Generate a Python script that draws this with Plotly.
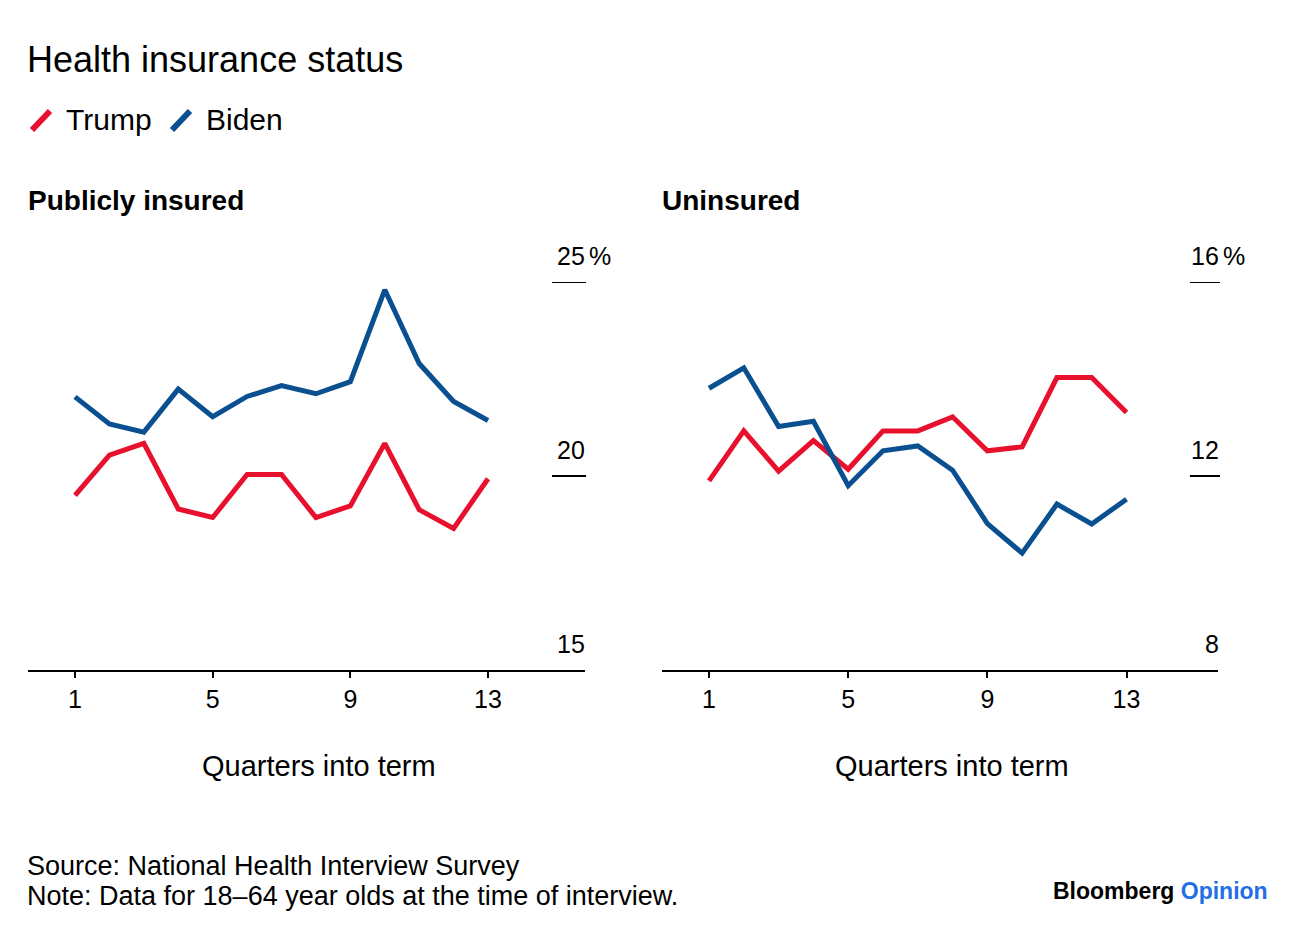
import plotly.graph_objects as go

# ---------------- data ----------------
quarters = list(range(1, 14))
series_names = ["Trump", "Biden"]
series_colors = ["#E8112D", "#0A5091"]

public_trump = [19.50, 20.54, 20.84, 19.15, 18.93, 20.04, 20.04, 18.93, 19.23, 20.84, 19.13, 18.65, 19.93]
public_biden = [22.04, 21.34, 21.13, 22.24, 21.53, 22.05, 22.33, 22.12, 22.43, 24.80, 22.90, 21.92, 21.43]

uninsured_trump = [11.90, 12.93, 12.10, 12.73, 12.14, 12.93, 12.93, 13.22, 12.52, 12.60, 14.03, 14.03, 13.31]
uninsured_biden = [13.81, 14.23, 13.02, 13.13, 11.80, 12.52, 12.62, 12.12, 11.02, 10.41, 11.42, 11.01, 11.52]

x_ticks = [1, 5, 9, 13]
public_y_ticks = [15, 20, 25]
uninsured_y_ticks = [8, 12, 16]

title_text = "Health insurance status"
panel_titles = ["Publicly insured", "Uninsured"]
x_title = "Quarters into term"
source_text = "Source: National Health Interview Survey"
note_text = "Note: Data for 18\u201364 year olds at the time of interview."

# ---------------- layout helpers ----------------
W, H = 1296, 936
FONT = "Liberation Sans"


def px(x):
    return x / W


def py(y):
    return 1 - y / H


fig = go.Figure()

panels = [
    dict(xa="x", ya="y", xd=[px(28), px(585)], xr=[-0.366, 15.818],
         yr=[public_y_ticks[0], public_y_ticks[-1]], ticks=public_y_ticks,
         data=[public_trump, public_biden], tick_x=(552, 586), title_x=26, xt_c=319),
    dict(xa="x2", ya="y2", xd=[px(662), px(1218)], xr=[-0.352, 15.63],
         yr=[uninsured_y_ticks[0], uninsured_y_ticks[-1]], ticks=uninsured_y_ticks,
         data=[uninsured_trump, uninsured_biden], tick_x=(1190, 1220), title_x=660, xt_c=952),
]

ydom = [py(670), py(282)]

annotations = []
shapes = []

for i, p in enumerate(panels):
    for name, color, vals in zip(series_names, series_colors, p["data"]):
        fig.add_trace(go.Scatter(
            x=quarters, y=vals, mode="lines", name=name,
            line=dict(color=color, width=5), xaxis=p["xa"], yaxis=p["ya"],
            showlegend=False, hoverinfo="skip"))
    suffix = "" if i == 0 else "2"
    fig.update_layout(**{
        "xaxis" + suffix: dict(domain=p["xd"], range=p["xr"], anchor=p["ya"],
                               tickvals=x_ticks, ticktext=[str(t) for t in x_ticks],
                               showgrid=False, zeroline=False, showline=True,
                               linecolor="black", linewidth=2,
                               ticks="outside", ticklen=6, tickwidth=1.5, tickcolor="black",
                               tickfont=dict(family=FONT, size=25, color="black")),
        "yaxis" + suffix: dict(domain=ydom, range=p["yr"], anchor=p["xa"],
                               showgrid=False, zeroline=False, showline=False,
                               showticklabels=False, ticks=""),
    })
    # y tick marks (short lines above the axis) and labels
    x0, x1 = p["tick_x"]
    for j, t in enumerate(p["ticks"]):
        if j > 0:
            shapes.append(dict(type="line", xref="paper", yref=p["ya"],
                               x0=px(x0), x1=px(x1), y0=t, y1=t,
                               line=dict(color="black", width=2)))
        annotations.append(dict(xref="paper", yref=p["ya"], x=px(x1 + 1), y=t,
                                text=str(t), showarrow=False, xanchor="right",
                                yanchor="bottom", yshift=10,
                                font=dict(family=FONT, size=25, color="black")))
        if j == len(p["ticks"]) - 1:
            annotations.append(dict(xref="paper", yref=p["ya"], x=px(x1 + 1), y=t,
                                    text="%", showarrow=False, xanchor="left",
                                    yanchor="bottom", yshift=10,
                                    font=dict(family=FONT, size=25, color="black")))
    # panel title
    annotations.append(dict(xref="paper", yref="paper", x=px(p["title_x"]), y=py(200),
                            text="<b>" + panel_titles[i] + "</b>", showarrow=False,
                            xanchor="left", yanchor="middle",
                            font=dict(family=FONT, size=28, color="black")))
    # x axis title
    annotations.append(dict(xref="paper", yref="paper", x=px(p["xt_c"]), y=py(766),
                            text=x_title, showarrow=False, xanchor="center",
                            yanchor="middle",
                            font=dict(family=FONT, size=29, color="black")))

# main title
annotations.append(dict(xref="paper", yref="paper", x=px(25), y=py(60), text=title_text,
                        showarrow=False, xanchor="left", yanchor="middle",
                        font=dict(family=FONT, size=36, color="black")))

# legend: slanted line glyphs + labels
legend_glyph_x = [30, 170]
legend_text_x = [64, 204]
for name, color, gx, tx in zip(series_names, series_colors, legend_glyph_x, legend_text_x):
    shapes.append(dict(type="line", xref="paper", yref="paper",
                       x0=px(gx + 2), y0=py(130), x1=px(gx + 20), y1=py(111),
                       line=dict(color=color, width=6)))
    annotations.append(dict(xref="paper", yref="paper", x=px(tx), y=py(120), text=name,
                            showarrow=False, xanchor="left", yanchor="middle",
                            font=dict(family=FONT, size=30, color="black")))

# footer
annotations.append(dict(xref="paper", yref="paper", x=px(25), y=py(866), text=source_text,
                        showarrow=False, xanchor="left", yanchor="middle",
                        font=dict(family=FONT, size=27, color="black")))
annotations.append(dict(xref="paper", yref="paper", x=px(25), y=py(896), text=note_text,
                        showarrow=False, xanchor="left", yanchor="middle",
                        font=dict(family=FONT, size=27, color="black")))
annotations.append(dict(xref="paper", yref="paper", x=px(1270), y=py(891),
                        text="<b>Bloomberg</b> <span style='color:#1F6FE5'><b>Opinion</b></span>",
                        showarrow=False, xanchor="right", yanchor="middle",
                        font=dict(family=FONT, size=23, color="black")))

fig.update_layout(
    width=W, height=H,
    margin=dict(l=0, r=0, t=0, b=0),
    paper_bgcolor="white", plot_bgcolor="white",
    annotations=annotations, shapes=shapes,
    showlegend=False,
)

fig.write_html("out.html")
